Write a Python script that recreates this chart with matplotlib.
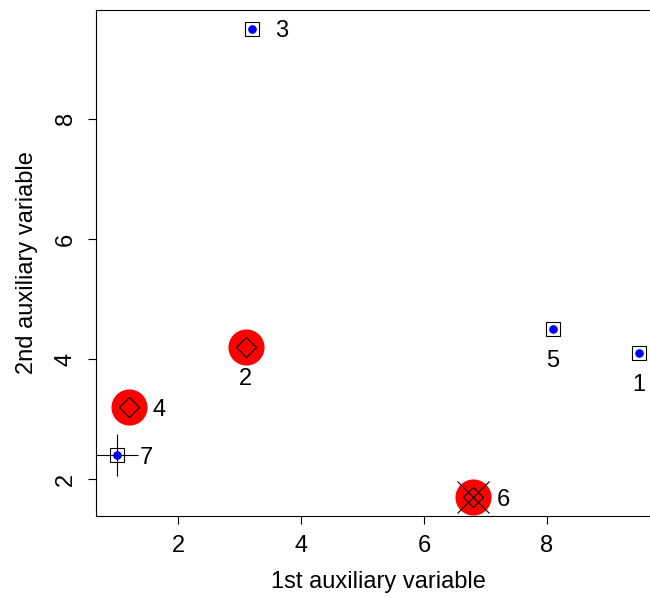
import matplotlib
matplotlib.use("Agg")
import matplotlib.pyplot as plt
import numpy as np

# Unit coordinates on the two auxiliary variables
unit_ids = ["1", "2", "3", "4", "5", "6", "7"]
aux1 = [9.5, 3.1, 3.2, 1.2, 8.1, 6.8, 1.0]
aux2 = [4.1, 4.2, 9.5, 3.2, 4.5, 1.7, 2.4]

# Which units get which symbol
boxed_units = ["1", "3", "5", "7"]
selected_units = ["2", "4", "6"]
crossed_units = ["6"]
plus_units = ["7"]
label_below = ["1", "2", "5"]

x_ticks = [2, 4, 6, 8]
y_ticks = [2, 4, 6, 8]

plt.rcParams["font.family"] = ["Liberation Sans", "DejaVu Sans"]

FS = 17

fig = plt.figure(figsize=(6.5, 5.98), dpi=100)
ax = fig.add_axes([96 / 650, 1 - 516 / 598, (660 - 96) / 650, (516 - 10) / 598])

x = np.array(aux1)
y = np.array(aux2)
idx = {u: i for i, u in enumerate(unit_ids)}

def sel(units):
    ii = [idx[u] for u in units]
    return x[ii], y[ii]

# all units as small blue dots
ax.plot(x, y, linestyle="none", marker="o", ms=5.2, color="#0000ff", zorder=3)

bx, by = sel(boxed_units)
ax.plot(bx, by, linestyle="none", marker="s", ms=9.8, mfc="none", mec="black", mew=0.8, zorder=2)

sx, sy = sel(selected_units)
ax.plot(sx, sy, linestyle="none", marker="o", ms=26, color="#ff0000", mec="none", zorder=4)
ax.plot(sx, sy, linestyle="none", marker="D", ms=10.5, mfc="none", mec="black", mew=0.8, zorder=5)

cx, cy = sel(crossed_units)
ax.plot(cx, cy, linestyle="none", marker="x", ms=23.5, mec="black", mew=0.8, zorder=6)

px, py = sel(plus_units)
ax.plot(px, py, linestyle="none", marker="+", ms=30, mec="black", mew=0.8, zorder=2)

for u, xi, yi in zip(unit_ids, x, y):
    if u in label_below:
        ax.annotate(u, (xi, yi), xytext=(0, -21.5), textcoords="offset points",
                    ha="center", va="center_baseline", fontsize=FS, zorder=7)
    else:
        ax.annotate(u, (xi, yi), xytext=(21.5, 0), textcoords="offset points",
                    ha="center", va="center_baseline", fontsize=FS, zorder=7)

rx = max(aux1) - min(aux1)
ry = max(aux2) - min(aux2)
ax.set_xlim(min(aux1) - 0.04 * rx, max(aux1) + 0.04 * rx)
ax.set_ylim(min(aux2) - 0.04 * ry, max(aux2) + 0.04 * ry)

ax.set_xticks(x_ticks)
ax.set_yticks(y_ticks)
ax.tick_params(axis="both", direction="out", length=6, width=0.8, labelsize=FS)
ax.tick_params(axis="x", pad=7.5)
ax.tick_params(axis="y", pad=8)
for lab in ax.get_yticklabels():
    lab.set_rotation(90)
    lab.set_va("center")
for s in ax.spines.values():
    s.set_linewidth(0.8)
    s.set_color("black")

ax.set_xlabel("1st auxiliary variable", fontsize=FS, labelpad=10)
ax.set_ylabel("2nd auxiliary variable", fontsize=FS, labelpad=12)

fig.savefig("out.png", dpi=100)
